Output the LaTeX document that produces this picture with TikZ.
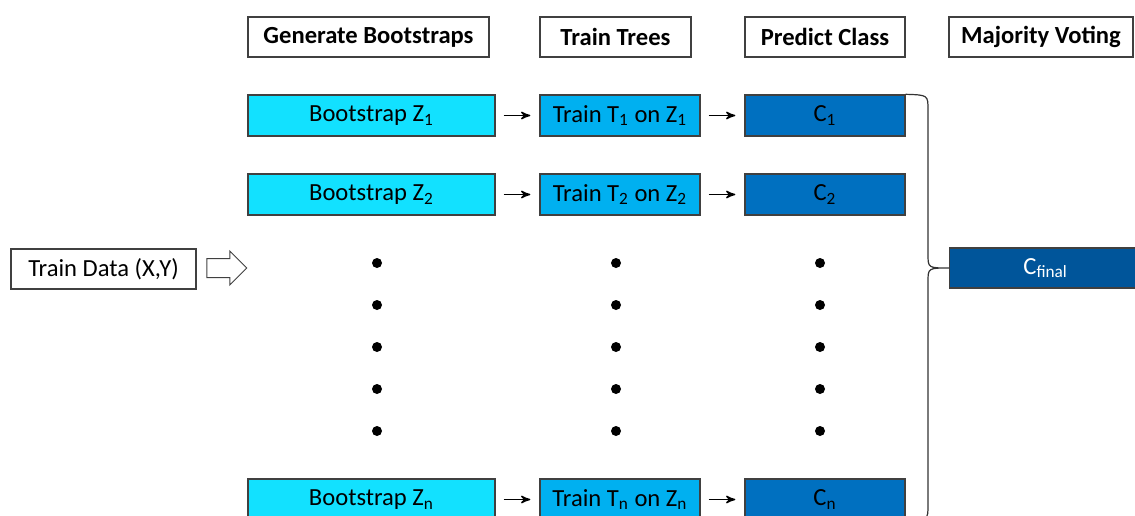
\documentclass[tikz,border=0pt]{standalone}
\usepackage{fontspec}
\setmainfont{Carlito}
\usetikzlibrary{positioning, arrows, shapes.arrows}

\definecolor{bootcol}{HTML}{12E1FF}
\definecolor{treecol}{HTML}{00B0F0}
\definecolor{predcol}{HTML}{0070C0}
\definecolor{finalcol}{HTML}{00559A}

\begin{document}
\begin{tikzpicture}[x=0.5pt, y=-0.5pt, >=stealth', line width=0.7pt,
    every node/.style={font=\fontsize{12.3pt}{14pt}\selectfont},
    box/.style={draw=black!75, rectangle, inner sep=0pt, minimum height=20.5pt},
    head/.style={box, minimum height=20pt, font=\fontsize{12.3pt}{14pt}\selectfont\bfseries},
    boot/.style={box, fill=bootcol, minimum width=123.5pt},
    tree/.style={box, fill=treecol, minimum width=80pt},
    pred/.style={box, fill=predcol, minimum width=80pt},
    dot/.style={circle, fill=black, inner sep=0pt, minimum size=5pt},
    ]
\useasboundingbox (0,0) rectangle (1135,515);

% column headers
\node[head, minimum width=120.5pt] (hboot) at (368.5,37) {Generate Bootstraps};
\node[head, minimum width=75.5pt] (htree) at (615.5,37) {Train Trees};
\node[head, minimum width=80pt] (hpred) at (825,37) {Predict Class};
\node[head, minimum width=92pt] (hvote) at (1041,37) {Majority Voting};

% input
\node[box, minimum width=92.5pt, minimum height=20pt] (data) at (103.5,269) {Train Data (X,Y)};
\node[single arrow, draw=black!75, line width=0.5pt, minimum height=20pt,
      inner xsep=0pt, inner ysep=4.5pt, single arrow head extend=3.7pt] (into) at (222,268) {};

% rows 1, 2 and n
\node[boot] (b1) at (371.5,115.5) {Bootstrap Z\textsubscript{1}};
\node[tree] (t1) at (620,115.5) {Train T\textsubscript{1} on Z\textsubscript{1}};
\node[pred] (c1) at (825,115.5) {C\textsubscript{1}};

\node[boot] (b2) at (371.5,194.5) {Bootstrap Z\textsubscript{2}};
\node[tree] (t2) at (620,194.5) {Train T\textsubscript{2} on Z\textsubscript{2}};
\node[pred] (c2) at (825,194.5) {C\textsubscript{2}};

\node[boot] (bn) at (371.5,499.5) {Bootstrap Z\textsubscript{n}};
\node[tree] (tn) at (620,499.5) {Train T\textsubscript{n} on Z\textsubscript{n}};
\node[pred] (cn) at (825,499.5) {C\textsubscript{n}};

% vote
\node[box, fill=finalcol, text=white, minimum width=96pt, minimum height=20pt,
      anchor=west] (cfin) at (949,268) {C\textsubscript{final}};

% dots between row 2 and row n
\foreach \x/\c in {377/b,616/t,820/c}
  \foreach \y [count=\i] in {263,305,347,389,431}
    \node[dot] (\c dot\i) at (\x,\y) {};

\path[->, shorten <=4pt, shorten >=4.5pt]
    (b1) edge (t1)
    (t1) edge (c1)
    (b2) edge (t2)
    (t2) edge (c2)
    (bn) edge (tn)
    (tn) edge (cn);

% brace into the vote
\draw[line width=0.6pt, black!80] (c1.north east) .. controls (928,95) .. (928,110) -- (928,254)
    .. controls (928,268) .. (cfin.west)
    .. controls (928,268) .. (928,282) -- (928,505)
    .. controls (928,520) .. (cn.south east);
\end{tikzpicture}
\end{document}
